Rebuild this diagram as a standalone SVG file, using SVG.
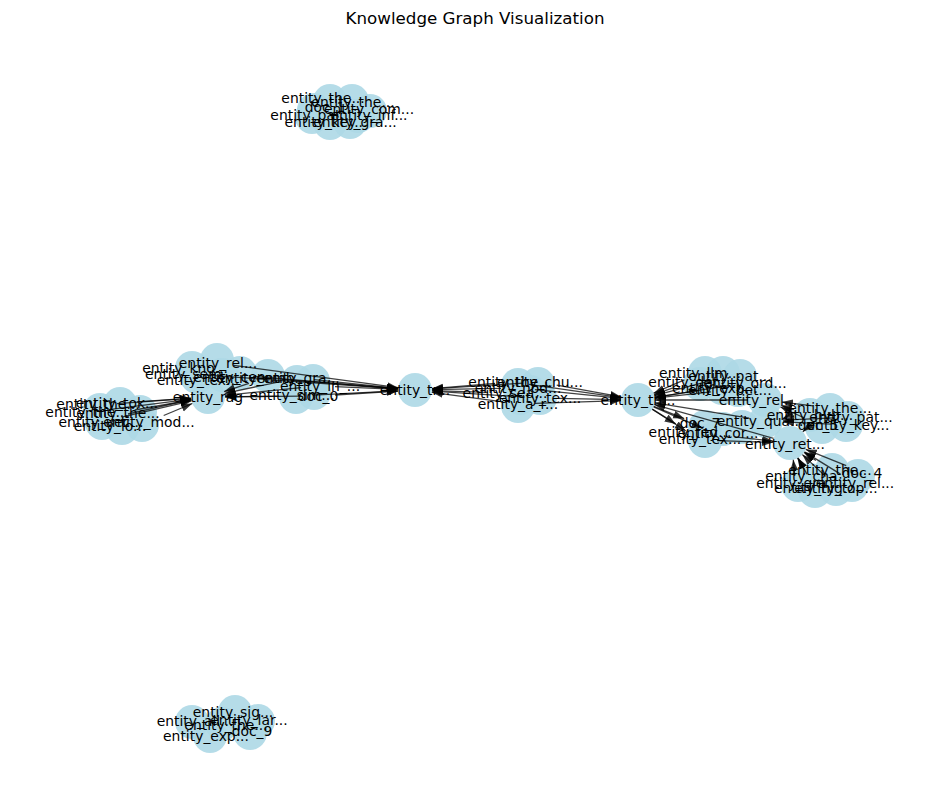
<svg xmlns="http://www.w3.org/2000/svg" width="950" height="812" viewBox="0 0 950 812">
<style>
.n circle{fill:#add8e6;fill-opacity:0.9}
.lb text{font-family:"DejaVu Sans",sans-serif;font-size:13.9px;fill:#000;text-anchor:middle;dominant-baseline:central}
.e line{stroke:#000;stroke-opacity:0.75;stroke-width:1.3;marker-end:url(#arr)}
.title{font-family:"DejaVu Sans",sans-serif;font-size:16.7px;text-anchor:middle}
</style>
<defs>
<marker id="arr" markerUnits="userSpaceOnUse" markerWidth="11" markerHeight="9" refX="11" refY="4" orient="auto">
<path d="M0,0 L11,4 L0,8 z" fill="#000" fill-opacity="0.8"/>
</marker>
</defs>
<rect width="950" height="812" fill="#fff"/>
<text class="title" x="475" y="24">Knowledge Graph Visualization</text>
<g id="nodes" class="n">
<g id="n_top1"><circle cx="330" cy="101" r="17"/></g>
<g id="n_top2"><circle cx="352" cy="101" r="17"/></g>
<g id="n_top3"><circle cx="314" cy="110" r="17"/></g>
<g id="n_top4"><circle cx="370" cy="111" r="17"/></g>
<g id="n_top5"><circle cx="312" cy="117" r="17"/></g>
<g id="n_top6"><circle cx="358" cy="116" r="17"/></g>
<g id="n_top7"><circle cx="330" cy="123" r="17"/></g>
<g id="n_top8"><circle cx="350" cy="122" r="17"/></g>
<g id="n_tok1"><circle cx="100" cy="410" r="17"/></g>
<g id="n_tok2"><circle cx="120" cy="404" r="17"/></g>
<g id="n_tok3"><circle cx="140" cy="412" r="17"/></g>
<g id="n_tok4"><circle cx="102" cy="423" r="17"/></g>
<g id="n_tok5"><circle cx="122" cy="428" r="17"/></g>
<g id="n_tok6"><circle cx="142" cy="425" r="17"/></g>
<g id="n_tok7"><circle cx="112" cy="418" r="17"/></g>
<g id="n_rc1"><circle cx="217" cy="360" r="17"/></g>
<g id="n_rc2"><circle cx="192" cy="368" r="17"/></g>
<g id="n_rc3"><circle cx="197" cy="377" r="17"/></g>
<g id="n_rc4"><circle cx="240" cy="373" r="17"/></g>
<g id="n_rc5"><circle cx="222" cy="375" r="17"/></g>
<g id="n_rag"><circle cx="208" cy="397" r="17"/></g>
<g id="n_g1"><circle cx="268" cy="376" r="17"/></g>
<g id="n_g2"><circle cx="297" cy="382" r="17"/></g>
<g id="n_g3"><circle cx="313" cy="381" r="17"/></g>
<g id="n_g4"><circle cx="296" cy="397" r="17"/></g>
<g id="n_g5"><circle cx="314" cy="393" r="17"/></g>
<g id="n_tr"><circle cx="415" cy="390" r="17"/></g>
<g id="n_m1"><circle cx="518" cy="385" r="17"/></g>
<g id="n_m2"><circle cx="538" cy="384" r="17"/></g>
<g id="n_m3"><circle cx="520" cy="398" r="17"/></g>
<g id="n_m4"><circle cx="540" cy="398" r="17"/></g>
<g id="n_m5"><circle cx="530" cy="392" r="17"/></g>
<g id="n_m6"><circle cx="518" cy="406" r="17"/></g>
<g id="n_th"><circle cx="638" cy="400" r="17"/></g>
<g id="n_u1"><circle cx="705" cy="373" r="17"/></g>
<g id="n_u2"><circle cx="723" cy="373" r="17"/></g>
<g id="n_u3"><circle cx="740" cy="376" r="17"/></g>
<g id="n_u4"><circle cx="700" cy="384" r="17"/></g>
<g id="n_u5"><circle cx="722" cy="388" r="17"/></g>
<g id="n_u6"><circle cx="738" cy="390" r="17"/></g>
<g id="n_rel"><circle cx="765" cy="400" r="17"/></g>
<g id="n_rm0"><circle cx="766" cy="421" r="17"/></g>
<g id="n_rm1"><circle cx="705" cy="427" r="17"/></g>
<g id="n_rm2"><circle cx="723" cy="429" r="17"/></g>
<g id="n_rm3"><circle cx="742" cy="427" r="17"/></g>
<g id="n_rm4"><circle cx="705" cy="441" r="17"/></g>
<g id="n_rt1"><circle cx="830" cy="410" r="17"/></g>
<g id="n_rt2"><circle cx="848" cy="418" r="17"/></g>
<g id="n_rt3"><circle cx="810" cy="415" r="17"/></g>
<g id="n_rt4"><circle cx="822" cy="427" r="17"/></g>
<g id="n_rt5"><circle cx="846" cy="425" r="17"/></g>
<g id="n_ret"><circle cx="790" cy="443" r="17"/></g>
<g id="n_b1"><circle cx="832" cy="470" r="17"/></g>
<g id="n_b2"><circle cx="858" cy="476" r="17"/></g>
<g id="n_b3"><circle cx="810" cy="480" r="17"/></g>
<g id="n_b4"><circle cx="798" cy="485" r="17"/></g>
<g id="n_b5"><circle cx="852" cy="485" r="17"/></g>
<g id="n_b6"><circle cx="815" cy="491" r="17"/></g>
<g id="n_b7"><circle cx="836" cy="489" r="17"/></g>
<g id="n_s1"><circle cx="235" cy="712" r="17"/></g>
<g id="n_s2"><circle cx="192" cy="722" r="17"/></g>
<g id="n_s3"><circle cx="258" cy="721" r="17"/></g>
<g id="n_s4"><circle cx="222" cy="724" r="17"/></g>
<g id="n_s5"><circle cx="250" cy="733" r="17"/></g>
<g id="n_s6"><circle cx="210" cy="736" r="17"/></g>
</g>
<g id="connectors" class="e">
<line x1="117" y1="403.7" x2="191" y2="398.3"/>
<line x1="137" y1="401.8" x2="191" y2="398.2"/>
<line x1="106.9" y1="409.9" x2="191.1" y2="399.1"/>
<line x1="134.7" y1="410" x2="191.3" y2="400"/>
<line x1="121.6" y1="417.1" x2="191.4" y2="400.9"/>
<line x1="163.7" y1="415.5" x2="192.3" y2="403.5"/>
<line x1="128" y1="414" x2="191.2" y2="399.5"/>
<line x1="248.9" y1="383.4" x2="224.1" y2="391.6"/>
<line x1="280.4" y1="381.6" x2="224.6" y2="393.4"/>
<line x1="301.1" y1="387.7" x2="224.9" y2="395.3"/>
<line x1="279" y1="396.2" x2="225" y2="396.8"/>
<line x1="301" y1="396.2" x2="225" y2="396.8"/>
<line x1="233.8" y1="365.3" x2="398.2" y2="387.7"/>
<line x1="252.9" y1="376.4" x2="398.1" y2="388.6"/>
<line x1="207" y1="375.2" x2="398" y2="388.8"/>
<line x1="282" y1="379.4" x2="398" y2="388.6"/>
<line x1="313.9" y1="379.7" x2="398.1" y2="388.3"/>
<line x1="335" y1="386.7" x2="398" y2="389.3"/>
<line x1="313" y1="395.1" x2="398" y2="390.9"/>
<line x1="335" y1="395" x2="398" y2="391"/>
<line x1="495" y1="383.4" x2="432" y2="388.6"/>
<line x1="523" y1="383.1" x2="432" y2="388.9"/>
<line x1="501" y1="388.3" x2="432" y2="389.7"/>
<line x1="488" y1="392.4" x2="432" y2="390.6"/>
<line x1="523" y1="396.9" x2="432" y2="391.1"/>
<line x1="501.2" y1="401.7" x2="431.8" y2="392.3"/>
<line x1="528.8" y1="384.4" x2="621.2" y2="397.6"/>
<line x1="556.7" y1="385.1" x2="621.3" y2="396.9"/>
<line x1="534.9" y1="389.7" x2="621.1" y2="398.3"/>
<line x1="557" y1="398.3" x2="621" y2="399.7"/>
<line x1="535" y1="403.4" x2="621" y2="400.6"/>
<line x1="684.4" y1="379.8" x2="653.6" y2="393.2"/>
<line x1="711.6" y1="380.4" x2="654.4" y2="395.6"/>
<line x1="728.2" y1="385.7" x2="654.8" y2="397.3"/>
<line x1="673.9" y1="387.6" x2="654.1" y2="394.4"/>
<line x1="698.2" y1="390.6" x2="654.8" y2="397.4"/>
<line x1="711.1" y1="391.9" x2="654.9" y2="398.1"/>
<line x1="748" y1="400" x2="655" y2="400"/>
<line x1="749.2" y1="418.2" x2="654.8" y2="402.8"/>
<line x1="773.6" y1="438.4" x2="654.4" y2="404.6"/>
<line x1="653.8" y1="406.4" x2="684.2" y2="418.6"/>
<line x1="652.3" y1="409.1" x2="675.7" y2="423.9"/>
<line x1="653.6" y1="406.8" x2="702.4" y2="428.2"/>
<line x1="652.3" y1="409.2" x2="685.7" y2="430.8"/>
<line x1="793.9" y1="409.6" x2="781.1" y2="405.4"/>
<line x1="813.1" y1="405.9" x2="781.9" y2="402.1"/>
<line x1="804.5" y1="418" x2="780.5" y2="407"/>
<line x1="793.2" y1="412.7" x2="782.8" y2="418.7"/>
<line x1="831" y1="424.2" x2="783" y2="421.8"/>
<line x1="834" y1="417.8" x2="783" y2="420.2"/>
<line x1="815.9" y1="460.5" x2="804.1" y2="452.5"/>
<line x1="846.2" y1="465.6" x2="805.8" y2="449.4"/>
<line x1="803" y1="467" x2="797.5" y2="458"/>
<line x1="794.7" y1="476" x2="793.3" y2="459.7"/>
<line x1="840.5" y1="474.1" x2="804.5" y2="451.9"/>
<line x1="806.9" y1="474.1" x2="798.1" y2="457.9"/>
<line x1="825.6" y1="476.4" x2="802.4" y2="454.6"/>
<line x1="817.2" y1="419.2" x2="802.8" y2="431.8"/>
<line x1="734.9" y1="436.9" x2="773.1" y2="441.1"/>
<line x1="717" y1="440.6" x2="773" y2="442.4"/>
</g>
<g id="labels" class="lb">
<text id="l_top1" x="323" y="98">entity_the...</text>
<text id="l_top2" x="353" y="102">entity_the...</text>
<text id="l_top3" x="325" y="107">doc_1</text>
<text id="l_top4" x="369" y="109">entity_com...</text>
<text id="l_top5" x="312" y="115">entity_pat...</text>
<text id="l_top6" x="369" y="115">entity_inf...</text>
<text id="l_top7" x="326" y="122">entity_key...</text>
<text id="l_top8" x="355" y="122">entity_gra...</text>
<text id="l_tok1" x="98" y="404">entity_the...</text>
<text id="l_tok2" x="117" y="403">entity_tok...</text>
<text id="l_tok3" x="87" y="412">entity_the...</text>
<text id="l_tok4" x="118" y="413">entity_the...</text>
<text id="l_tok5" x="101" y="422">entity_vec...</text>
<text id="l_tok6" x="149" y="422">entity_mod...</text>
<text id="l_tok7" x="110" y="426">entity_lo...</text>
<text id="l_rc1" x="218" y="363">entity_rel...</text>
<text id="l_rc2" x="185" y="368">entity_kno...</text>
<text id="l_rc3" x="190" y="374">entity_sem...</text>
<text id="l_rc4" x="198" y="380">entity_tex...</text>
<text id="l_rc5" x="236" y="377">entity_cen...</text>
<text id="l_rag" x="208" y="397">entity_rag</text>
<text id="l_g1" x="262" y="378">entity_emb...</text>
<text id="l_g2" x="298" y="378">entity_gra...</text>
<text id="l_g3" x="320" y="386">entity_in_...</text>
<text id="l_g4" x="292" y="395">entity_sim...</text>
<text id="l_g5" x="318" y="396">doc_0</text>
<text id="l_tr" x="415" y="390">entity_tr...</text>
<text id="l_m1" x="510" y="382">entity_the...</text>
<text id="l_m2" x="540" y="382">entity_chu...</text>
<text id="l_m3" x="518" y="388">entity_nod...</text>
<text id="l_m4" x="505" y="393">entity_sea...</text>
<text id="l_m5" x="540" y="398">entity_tex...</text>
<text id="l_m6" x="518" y="404">entity_a_r...</text>
<text id="l_th" x="638" y="400">entity_th...</text>
<text id="l_u1" x="700" y="373">entity_llm...</text>
<text id="l_u2" x="730" y="376">entity_pat...</text>
<text id="l_u3" x="745" y="383">entity_ord...</text>
<text id="l_u4" x="690" y="382">entity_dat...</text>
<text id="l_u5" x="715" y="388">entity_exp...</text>
<text id="l_u6" x="730" y="390">entity_bet...</text>
<text id="l_rel" x="758" y="400">entity_rel...</text>
<text id="l_rm0" x="760" y="421">entity_qua...</text>
<text id="l_rm1" x="700" y="423">doc_7</text>
<text id="l_rm2" x="690" y="432">entity_fed...</text>
<text id="l_rm3" x="718" y="433">entity_cor...</text>
<text id="l_rm4" x="700" y="439">entity_tex...</text>
<text id="l_rt1" x="830" y="408">entity_the...</text>
<text id="l_rt2" x="851" y="417">entity_pat...</text>
<text id="l_rt3" x="810" y="415">entity_hyb...</text>
<text id="l_rt4" x="818" y="425">doc_5</text>
<text id="l_rt5" x="848" y="425">entity_key...</text>
<text id="l_ret" x="785" y="444">entity_ret...</text>
<text id="l_b1" x="830" y="470">entity_the...</text>
<text id="l_b2" x="862" y="473">doc_4</text>
<text id="l_b3" x="808" y="476">entity_cha...</text>
<text id="l_b4" x="798" y="483">entity_gra...</text>
<text id="l_b5" x="855" y="483">entity_rel...</text>
<text id="l_b6" x="815" y="488">entity_hig...</text>
<text id="l_b7" x="836" y="488">entity_top...</text>
<text id="l_s1" x="233" y="712">entity_sig...</text>
<text id="l_s2" x="195" y="721">entity_all...</text>
<text id="l_s3" x="249" y="720">entity_lar...</text>
<text id="l_s4" x="226" y="725">entity_the...</text>
<text id="l_s5" x="252" y="731">doc_9</text>
<text id="l_s6" x="206" y="736">entity_exp...</text>
</g>
</svg>
